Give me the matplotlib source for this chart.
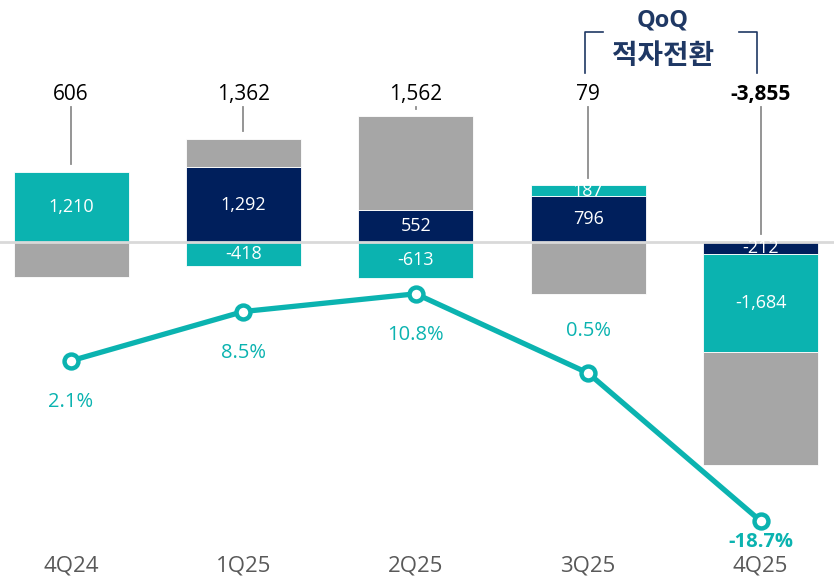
import numpy as np
import matplotlib
matplotlib.use("Agg")
import matplotlib.pyplot as plt

plt.rcParams['font.family'] = ['Open Sans', 'Noto Sans CJK KR', 'DejaVu Sans']

quarters = ['4Q24', '1Q25', '2Q25', '3Q25', '4Q25']
navy_vals = [0, 1292, 552, 796, -212]
teal_vals = [1210, -418, -613, 187, -1684]
gray_vals = [-604, 488, 1623, -904, -1959]
totals = ['606', '1,362', '1,562', '79', '-3,855']
margin = [2.1, 8.5, 10.8, 0.5, -18.7]
margin_lbl = ['2.1%', '8.5%', '10.8%', '0.5%', '-18.7%']
margin_above = [False, False, False, True, False]

TEAL = '#0BB3B0'
NAVY = '#001F5C'
GRAY = '#A6A6A6'

fig = plt.figure(figsize=(8.34, 5.81), dpi=100)
ax = fig.add_axes([0, 0, 1, 1])
ax.set_xlim(-0.412, 4.426)
ax.set_ylim(-5855, 4180)
ax.axis('off')

x = np.arange(len(quarters))
w = 0.667

# stack: navy first, then teal, then gray, each away from zero by sign
for i in range(len(quarters)):
    pos, neg = 0, 0
    for val, col, txt in [(navy_vals[i], NAVY, True), (teal_vals[i], TEAL, True), (gray_vals[i], GRAY, False)]:
        if val == 0:
            continue
        if val > 0:
            b = pos
            pos += val
        else:
            b = neg
            neg += val
        ax.bar(x[i], val, w, bottom=b, color=col, edgecolor='white', linewidth=0.6, zorder=2)
        if txt:
            ax.text(x[i], b + val / 2, f'{val:,}', ha='center', va='center',
                    color='white', fontsize=13, zorder=4)
    top = pos
    ax.plot([x[i], x[i]], [top + 130, 2330], color='#8C8C8C', lw=1.3, zorder=1)
    ax.text(x[i], 2540, totals[i], ha='center', va='center', fontsize=15,
            color='black', fontweight='bold' if i == 4 else 'normal')
    ax.text(x[i], -5600, quarters[i], ha='center', va='center', fontsize=16, color='#595959')

ax.axhline(0, color='#D9D9D9', lw=2, zorder=3)

# margin line on its own scale
ax2 = fig.add_axes([0, 0, 1, 1], sharex=ax)
ax2.set_ylim(-26.5, 48.96)
ax2.axis('off')
ax2.plot(x, margin, color=TEAL, lw=3.8, marker='o', ms=10, mfc='white',
         mec=TEAL, mew=3.2, zorder=5)
for i in range(len(quarters)):
    if margin_above[i]:
        dy = 30
    elif i == 4:
        dy = -15
    else:
        dy = -30
    ax2.annotate(margin_lbl[i], (x[i], margin[i]), xytext=(0, dy),
                 textcoords='offset points', ha='center', va='center',
                 fontsize=14.5, color=TEAL,
                 fontweight='bold' if i == 4 else 'normal')

# QoQ bracket
ax3 = fig.add_axes([0, 0, 1, 1])
ax3.set_xlim(0, 834)
ax3.set_ylim(581, 0)
ax3.axis('off')
bc = '#1F3864'
ax3.plot([585, 585, 603], [73, 32, 32], color=bc, lw=1.2)
ax3.plot([739, 757, 757], [32, 32, 73], color=bc, lw=1.2)
ax3.text(663, 21, 'QoQ', ha='center', va='center', fontsize=17, fontweight='bold', color=bc)
ax3.text(663, 57, '적자전환', ha='center', va='center', fontsize=20, fontweight='bold', color=bc)

fig.savefig('out.png', dpi=100)
